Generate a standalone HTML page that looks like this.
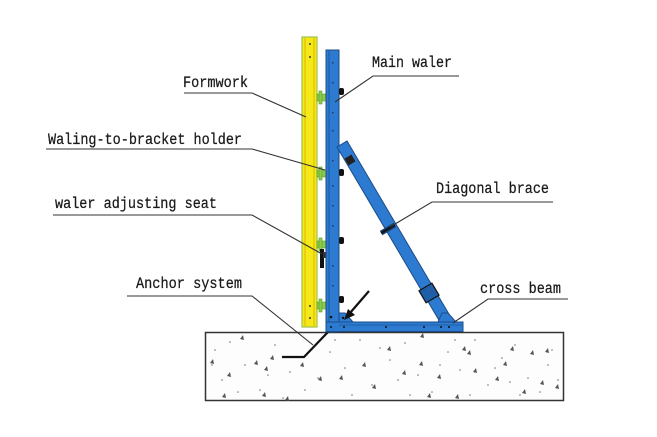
<!DOCTYPE html>
<html><head><meta charset="utf-8"><style>
html,body{margin:0;padding:0;background:#fff;width:657px;height:437px;overflow:hidden}
svg{display:block}
text{font-family:"Liberation Mono",monospace;fill:#1a1a1a;font-size:15.5px;stroke:#1a1a1a;stroke-width:0.25}
</style></head><body>
<svg width="657" height="437" viewBox="0 0 657 437" xmlns="http://www.w3.org/2000/svg">
<rect width="657" height="437" fill="#fff"/>
<!-- concrete -->
<rect x="205.5" y="332.5" width="358" height="68" fill="#fdfdfd" stroke="#333" stroke-width="1.5"/>
<g fill="#777">
<circle cx="215" cy="350" r="0.8"/><circle cx="230" cy="342" r="0.8"/><circle cx="245" cy="365" r="0.8"/><circle cx="222" cy="380" r="0.8"/><circle cx="260" cy="390" r="0.8"/><circle cx="275" cy="345" r="0.8"/><circle cx="290" cy="372" r="0.8"/><circle cx="305" cy="390" r="0.8"/><circle cx="330" cy="352" r="0.8"/><circle cx="345" cy="368" r="0.8"/><circle cx="360" cy="340" r="0.8"/><circle cx="372" cy="385" r="0.8"/><circle cx="390" cy="360" r="0.8"/><circle cx="405" cy="343" r="0.8"/><circle cx="418" cy="375" r="0.8"/><circle cx="432" cy="392" r="0.8"/><circle cx="448" cy="352" r="0.8"/><circle cx="460" cy="370" r="0.8"/><circle cx="475" cy="340" r="0.8"/><circle cx="488" cy="385" r="0.8"/><circle cx="502" cy="358" r="0.8"/><circle cx="515" cy="345" r="0.8"/><circle cx="528" cy="378" r="0.8"/><circle cx="540" cy="392" r="0.8"/><circle cx="552" cy="350" r="0.8"/><circle cx="238" cy="392" r="0.8"/><circle cx="268" cy="375" r="0.8"/><circle cx="318" cy="378" r="0.8"/><circle cx="352" cy="395" r="0.8"/><circle cx="380" cy="348" r="0.8"/><circle cx="410" cy="395" r="0.8"/><circle cx="440" cy="365" r="0.8"/><circle cx="470" cy="395" r="0.8"/><circle cx="495" cy="368" r="0.8"/><circle cx="520" cy="395" r="0.8"/><circle cx="548" cy="365" r="0.8"/><circle cx="212" cy="365" r="0.8"/><circle cx="283" cy="398" r="0.8"/><circle cx="335" cy="340" r="0.8"/><circle cx="398" cy="380" r="0.8"/><circle cx="455" cy="340" r="0.8"/><circle cx="510" cy="382" r="0.8"/><circle cx="558" cy="380" r="0.8"/>
</g>
<g fill="#555">
<path d="M240 339 l3 -4 l1 5z"/><path d="M210 363 l3 -4 l1 5z"/><path d="M254 364 l3 -4 l1 5z"/><path d="M270 359 l3 -4 l1 5z"/><path d="M264 370 l3 -4 l1 5z"/><path d="M227 376 l3 -4 l1 5z"/><path d="M300 366 l3 -4 l1 5z"/><path d="M318 380 l3 -4 l1 5z"/><path d="M339 379 l3 -4 l1 5z"/><path d="M262 396 l3 -4 l1 5z"/><path d="M222 397 l3 -4 l1 5z"/><path d="M285 400 l3 -4 l1 5z"/><path d="M362 366 l3 -4 l1 5z"/><path d="M387 350 l3 -4 l1 5z"/><path d="M402 374 l3 -4 l1 5z"/><path d="M419 365 l3 -4 l1 5z"/><path d="M372 388 l3 -4 l1 5z"/><path d="M427 397 l3 -4 l1 5z"/><path d="M437 378 l3 -4 l1 5z"/><path d="M462 350 l3 -4 l1 5z"/><path d="M467 354 l3 -4 l1 5z"/><path d="M473 372 l3 -4 l1 5z"/><path d="M495 380 l3 -4 l1 5z"/><path d="M503 365 l3 -4 l1 5z"/><path d="M510 350 l3 -4 l1 5z"/><path d="M530 354 l3 -4 l1 5z"/><path d="M545 352 l3 -4 l1 5z"/><path d="M540 384 l3 -4 l1 5z"/><path d="M555 388 l3 -4 l1 5z"/><path d="M522 393 l3 -4 l1 5z"/><path d="M455 398 l3 -4 l1 5z"/><path d="M420 337 l3 -4 l1 5z"/>
</g>
<!-- anchor line in concrete -->
<polyline points="328,332 304,357 282,357" fill="none" stroke="#111" stroke-width="2.2"/>
<!-- formwork yellow -->
<rect x="302" y="37" width="15" height="290" fill="#f4e818" stroke="#9fc24a" stroke-width="1.2"/>
<line x1="305" y1="38" x2="305" y2="326" stroke="#e0b800" stroke-width="1"/>
<line x1="314" y1="38" x2="314" y2="326" stroke="#e0b800" stroke-width="1"/>
<g fill="#333"><circle cx="310" cy="44" r="1"/><circle cx="310" cy="57" r="1"/><circle cx="310" cy="306" r="1"/><circle cx="310" cy="318" r="1"/></g>
<!-- green connectors -->
<g fill="#8ccc4c" stroke="#5a9a2a" stroke-width="0.6">
<rect x="317" y="94" width="9" height="7"/><rect x="319" y="91" width="3" height="13"/>
<rect x="317" y="170" width="9" height="7"/><rect x="319" y="167" width="3" height="13"/>
<rect x="317" y="241" width="9" height="7"/><rect x="319" y="238" width="3" height="13"/>
<rect x="317" y="302" width="9" height="7"/><rect x="319" y="299" width="3" height="13"/>
</g>
<!-- waler adjusting seat -->
<rect x="320" y="249" width="4" height="19" fill="#111"/><rect x="323" y="252" width="4" height="6" fill="#333"/>
<!-- main waler -->
<rect x="326" y="50" width="13" height="282" fill="#2d7bd0" stroke="#1b4c8a" stroke-width="1"/>
<line x1="329" y1="51" x2="329" y2="330" stroke="#1f5fa8" stroke-width="1.2"/>
<g fill="#183d6e"><rect x="332" y="62" width="1.5" height="1.5"/><rect x="332" y="82" width="1.5" height="1.5"/><rect x="332" y="112" width="1.5" height="1.5"/><rect x="332" y="130" width="1.5" height="1.5"/><rect x="332" y="160" width="1.5" height="1.5"/><rect x="332" y="185" width="1.5" height="1.5"/><rect x="332" y="205" width="1.5" height="1.5"/><rect x="332" y="225" width="1.5" height="1.5"/><rect x="332" y="265" width="1.5" height="1.5"/><rect x="332" y="285" width="1.5" height="1.5"/></g>
<!-- black knobs -->
<g fill="#111"><rect x="339" y="88" width="5" height="7" rx="2"/><rect x="339" y="169" width="5" height="7" rx="2"/><rect x="339" y="237" width="5" height="7" rx="2"/><rect x="339" y="296" width="5" height="7" rx="2"/></g>
<!-- diagonal brace -->
<polygon points="337,147 347,141 453,321 443,327" fill="#2d7bd0" stroke="#1b4c8a" stroke-width="1"/>
<g transform="translate(350,160) rotate(59.5)"><rect x="-4" y="-4" width="8" height="8" fill="#222"/></g>
<g transform="translate(388,229) rotate(59.5)"><rect x="-2.5" y="-8" width="5" height="16" fill="#1a3e6e"/><rect x="-1" y="-8" width="2" height="16" fill="#111"/></g>
<g transform="translate(429,293) rotate(59.5)"><rect x="-7" y="-7.5" width="14" height="15" fill="#1f5fa8" stroke="#111" stroke-width="1.2"/></g>
<!-- cross beam -->
<rect x="326" y="322" width="137" height="9.5" fill="#2d7bd0" stroke="#1b4c8a" stroke-width="1"/>
<line x1="339" y1="325" x2="462" y2="325" stroke="#1f5fa8" stroke-width="1"/>
<polygon points="339,313 345,313 353,322 339,322" fill="#2d7bd0" stroke="#1b4c8a" stroke-width="1"/>
<polygon points="442,313 448,313 456,322 438,322" fill="#2d7bd0" stroke="#1b4c8a" stroke-width="1"/>
<g fill="#111"><circle cx="331" cy="327" r="1"/><circle cx="344" cy="327" r="1"/><circle cx="386" cy="327" r="1"/><circle cx="424" cy="327" r="1"/><circle cx="441" cy="327" r="1"/><circle cx="449" cy="327" r="1"/><circle cx="331" cy="317" r="1.3"/><circle cx="343" cy="318" r="1.2"/></g>
<!-- anchor bolt -->
<line x1="369" y1="291" x2="350" y2="313" stroke="#111" stroke-width="2.2"/>
<polygon points="344,320 348,309 355,315" fill="#111"/>
<!-- leader lines -->
<g fill="none" stroke="#333" stroke-width="1.1">
<polyline points="184,93 252,93 306,117"/>
<polyline points="46,149 252,149 325,170"/>
<polyline points="53,215 252,215 322,254"/>
<polyline points="127,296 252,296 313,345"/>
<polyline points="459,76 373,76 335,102"/>
<polyline points="553,202 432,202 390,227"/>
<polyline points="568,299 488,299 453,323"/>
</g>
<!-- labels -->
<text x="183" y="87" textLength="65" lengthAdjust="spacingAndGlyphs">Formwork</text>
<text x="48" y="144" textLength="194" lengthAdjust="spacingAndGlyphs">Waling-to-bracket holder</text>
<text x="55" y="208" textLength="162" lengthAdjust="spacingAndGlyphs">waler adjusting seat</text>
<text x="136" y="288" textLength="106" lengthAdjust="spacingAndGlyphs">Anchor system</text>
<text x="372" y="67" textLength="80" lengthAdjust="spacingAndGlyphs">Main waler</text>
<text x="436" y="193" textLength="113" lengthAdjust="spacingAndGlyphs">Diagonal brace</text>
<text x="480" y="293" textLength="81" lengthAdjust="spacingAndGlyphs">cross beam</text>
</svg>
</body></html>
